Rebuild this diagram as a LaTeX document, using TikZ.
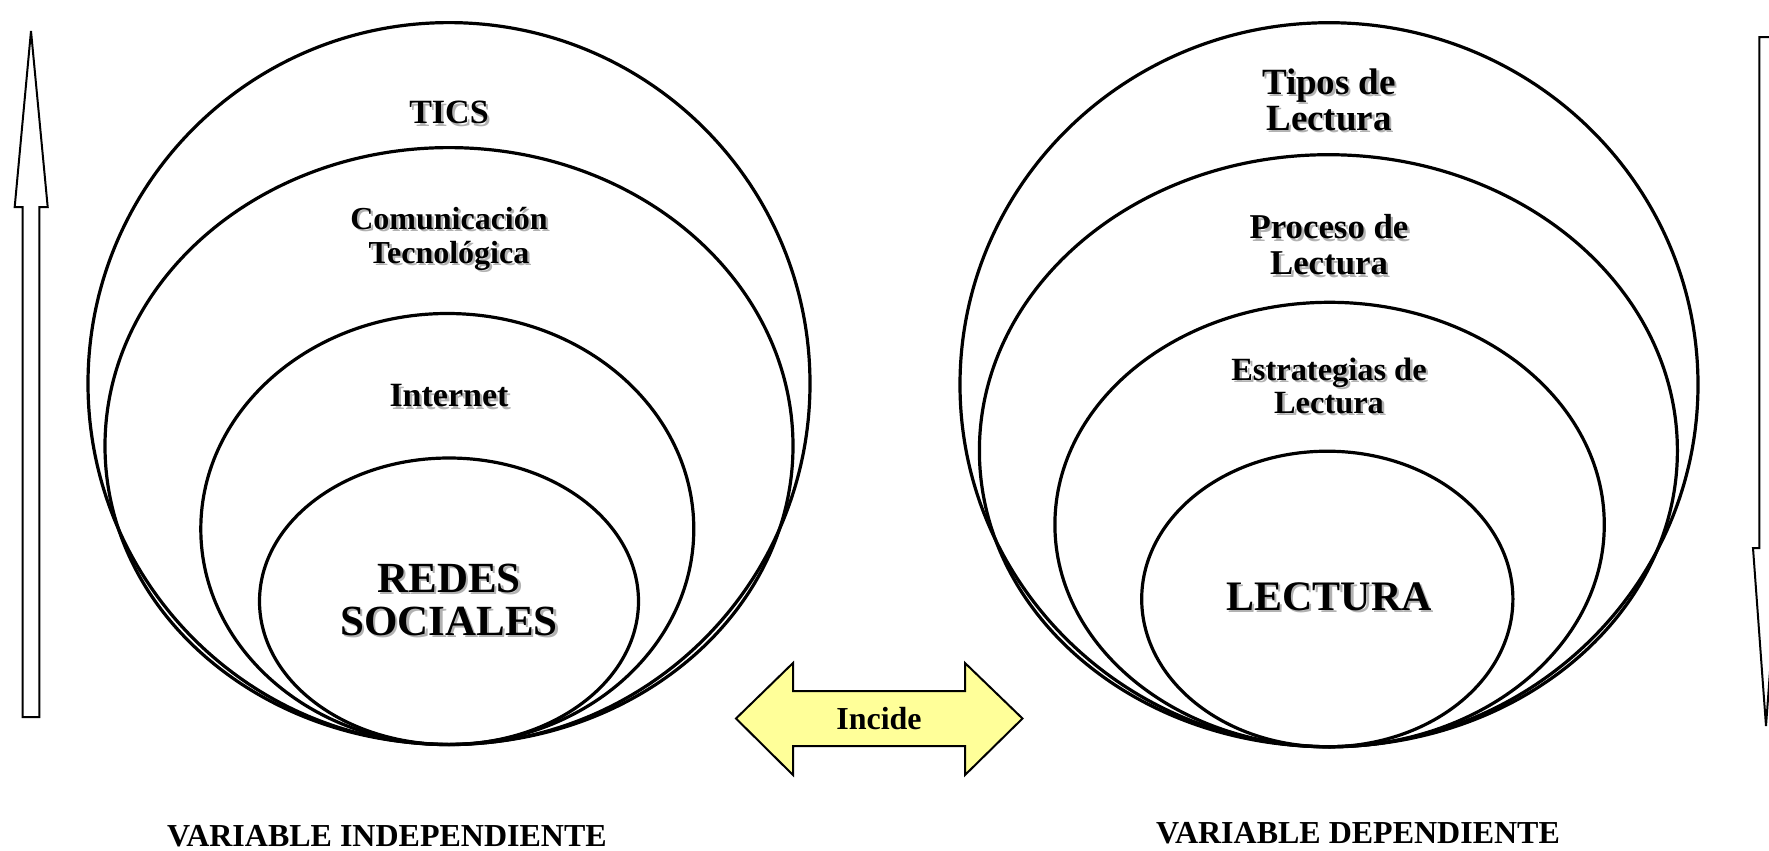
\documentclass[tikz,border=0pt]{standalone}
\usepackage{fontspec}
\setmainfont{Liberation Serif}
\newcommand\shd[1]{\leavevmode\rlap{\hspace{1.2pt}\raisebox{-1.2pt}{\textcolor{black!30}{#1}}}#1}
\definecolor{incideyellow}{HTML}{FFFF99}
\begin{document}
\begin{tikzpicture}[x=0.5pt,y=-0.5pt,
  ring/.style={draw=black,line width=1.6pt},
  lbl/.style={align=center,inner sep=0pt},
  blockarrow/.style={draw=black,line width=1pt,line join=miter}]
\useasboundingbox (0,0) rectangle (1769,851);
% left group
\draw[ring] (449,383.6) ellipse [x radius=361, y radius=361];
\draw[ring] (449,446) ellipse [x radius=344, y radius=298.4];
\draw[ring] (447.3,529) ellipse [x radius=246.5, y radius=215.5];
\draw[ring] (449,601.3) ellipse [x radius=189.5, y radius=143.3];
% right group
\draw[ring] (1329,384.7) ellipse [x radius=369, y radius=362];
\draw[ring] (1328.4,450.7) ellipse [x radius=349, y radius=296];
\draw[ring] (1329.6,524.6) ellipse [x radius=274.7, y radius=222.3];
\draw[ring] (1327.3,599) ellipse [x radius=185.6, y radius=147.8];
% side arrows
\draw[blockarrow,fill=white] (31,31) -- (47.7,207) -- (39.3,207) -- (39.3,717) -- (22.7,717) -- (22.7,207) -- (14.7,207) -- cycle;
\draw[blockarrow,fill=white] (1766,726) -- (1753,548) -- (1759.3,548) -- (1759.3,37) -- (1772.7,37) -- (1772.7,548) -- (1779,548) -- cycle;
% incide arrow
\draw[blockarrow,fill=incideyellow] (736,718.5) -- (793,663) -- (793,691) -- (965,691) -- (965,663) -- (1022.5,718.5) -- (965,775) -- (965,746) -- (793,746) -- (793,775) -- cycle;
\node[lbl,font=\bfseries\fontsize{16}{18}\selectfont] (incide) at (879,718.5) {Incide};
% left labels
\node[lbl,font=\bfseries\fontsize{17}{20}\selectfont] (tics) at (449,114) {\shd{TICS}};
\node[lbl,font=\bfseries\fontsize{16}{17}\selectfont] (com) at (449,240) {\shd{Comunicación}\\\shd{Tecnológica}};
\node[lbl,font=\bfseries\fontsize{17}{20}\selectfont] (internet) at (449,397) {\shd{Internet}};
\node[lbl,font=\bfseries\fontsize{21.5}{21.5}\selectfont] (redes) at (449,601) {\shd{REDES}\\\shd{SOCIALES}};
% right labels
\node[lbl,font=\bfseries\fontsize{18.5}{18}\selectfont] (tipos) at (1329,101) {\shd{Tipos de}\\\shd{Lectura}};
\node[lbl,font=\bfseries\fontsize{17.4}{18}\selectfont] (proceso) at (1329,246) {\shd{Proceso de}\\\shd{Lectura}};
\node[lbl,font=\bfseries\fontsize{16.2}{16.5}\selectfont] (estr) at (1329,387) {\shd{Estrategias de}\\\shd{Lectura}};
\node[lbl,font=\bfseries\fontsize{21}{24}\selectfont] (lectura) at (1329,598) {\shd{LECTURA}};
% bottom captions
\node[lbl,font=\bfseries\fontsize{16}{18}\selectfont,anchor=base] (vind) at (387,846) {VARIABLE INDEPENDIENTE};
\node[lbl,font=\bfseries\fontsize{16}{18}\selectfont,anchor=base] (vdep) at (1358,843) {VARIABLE DEPENDIENTE};
\end{tikzpicture}
\end{document}
